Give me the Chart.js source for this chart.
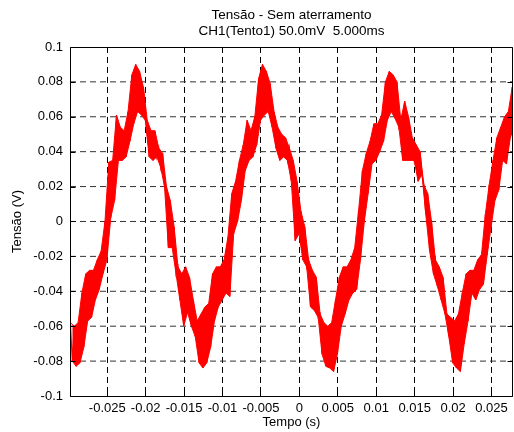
<!DOCTYPE html>
<html><head><meta charset="utf-8">
<script src="https://cdn.jsdelivr.net/npm/chart.js@4.4.0/dist/chart.umd.min.js"></script>
<style>html,body{margin:0;padding:0;background:#fff}#wrap{width:514px;height:432px}</style>
</head><body><div id="wrap"><canvas id="c" width="514" height="432"></canvas></div>
<script>
const titleLines = ['Tensão - Sem aterramento', 'CH1(Tento1) 50.0mV  5.000ms'];
const xTitle = 'Tempo (s)';
const yTitle = 'Tensão (V)';
const xTickValues = [-0.025, -0.02, -0.015, -0.01, -0.005, 0, 0.005, 0.01, 0.015, 0.02, 0.025];
const xTickLabels = ['-0.025', '-0.02', '-0.015', '-0.01', '-0.005', '0', '0.005', '0.01', '0.015', '0.02', '0.025'];
const yTickValues = [-0.1, -0.08, -0.06, -0.04, -0.02, 0, 0.02, 0.04, 0.06, 0.08, 0.1];
const yTickLabels = ['-0.1', '-0.08', '-0.06', '-0.04', '-0.02', '0', '0.02', '0.04', '0.06', '0.08', '0.1'];
const xMin = -0.02985, xMax = 0.0278;

// time of each reading (s)
const sampleTimes = [
 -0.0298,-0.0293,-0.0288,-0.0283,-0.0278,-0.0273,-0.0268,-0.0263,-0.0258,-0.0253,
 -0.0248,-0.0243,-0.0238,-0.0233,-0.0228,-0.0223,-0.0218,-0.0213,-0.0208,-0.0203,
 -0.0198,-0.0193,-0.0188,-0.0183,-0.0178,-0.0173,-0.0168,-0.0163,-0.0158,-0.0153,
 -0.0148,-0.0143,-0.0138,-0.0133,-0.0128,-0.0123,-0.0118,-0.0113,-0.0108,-0.0103,
 -0.0098,-0.0093,-0.0088,-0.0083,-0.0078,-0.0073,-0.0068,-0.0063,-0.0058,-0.0053,
 -0.0048,-0.0043,-0.0038,-0.0033,-0.0028,-0.0023,-0.0018,-0.0013,-0.0008,-0.0003,
 0.0002,0.0007,0.0012,0.0017,0.0022,0.0027,0.0032,0.0037,0.0042,0.0047,
 0.0052,0.0057,0.0062,0.0067,0.0072,0.0077,0.0082,0.0087,0.0092,0.0097,
 0.0102,0.0107,0.0112,0.0117,0.0122,0.0127,0.0132,0.0137,0.0142,0.0147,
 0.0152,0.0157,0.0162,0.0167,0.0172,0.0177,0.0182,0.0187,0.0192,0.0197,
 0.0202,0.0207,0.0212,0.0217,0.0222,0.0227,0.0232,0.0237,0.0242,0.0247,
 0.0252,0.0257,0.0262,0.0267,0.0272,0.0277
];
// upper edge of the noisy trace (V)
const upperV = [
 -0.058,-0.060,-0.058,-0.041,-0.030,-0.028,-0.028,-0.022,-0.017,0.000,
 0.034,0.035,0.061,0.054,0.052,0.063,0.084,0.090,0.086,0.077,
 0.058,0.052,0.052,0.042,0.039,0.020,0.012,-0.003,-0.026,-0.030,
 -0.026,-0.032,-0.045,-0.057,-0.053,-0.049,-0.047,-0.030,-0.026,-0.026,
 -0.022,-0.009,0.016,0.023,0.035,0.044,0.058,0.052,0.060,0.082,
 0.090,0.086,0.079,0.063,0.054,0.050,0.048,0.042,0.035,0.023,
 0.006,-0.003,-0.022,-0.028,-0.032,-0.053,-0.058,-0.060,-0.058,-0.045,
 -0.032,-0.026,-0.026,-0.022,-0.015,0.006,0.029,0.039,0.046,0.056,
 0.056,0.061,0.080,0.086,0.084,0.080,0.058,0.069,0.060,0.048,
 0.044,0.040,0.021,0.016,0.000,-0.022,-0.026,-0.032,-0.053,-0.055,
 -0.057,-0.053,-0.041,-0.030,-0.028,-0.028,-0.022,-0.019,0.004,0.021,
 0.035,0.048,0.054,0.060,0.063,0.077
];
// lower edge of the noisy trace (V)
const lowerV = [
 -0.080,-0.083,-0.081,-0.072,-0.057,-0.055,-0.045,-0.039,-0.030,-0.022,
 0.002,0.012,0.035,0.035,0.037,0.046,0.056,0.063,0.061,0.058,
 0.037,0.035,0.037,0.031,0.020,-0.015,-0.015,-0.030,-0.045,-0.060,
 -0.052,-0.060,-0.066,-0.081,-0.084,-0.081,-0.072,-0.057,-0.049,-0.045,
 -0.041,-0.043,-0.007,0.000,0.012,0.029,0.035,0.037,0.044,0.058,
 0.061,0.063,0.054,0.042,0.035,0.037,0.035,0.023,-0.011,-0.007,
 -0.022,-0.026,-0.049,-0.051,-0.055,-0.076,-0.083,-0.084,-0.086,-0.076,
 -0.060,-0.053,-0.045,-0.041,-0.039,-0.022,0.000,0.016,0.033,0.035,
 0.040,0.046,0.058,0.063,0.059,0.054,0.035,0.035,0.035,0.035,
 0.023,0.027,0.004,-0.017,-0.030,-0.037,-0.045,-0.053,-0.066,-0.081,
 -0.084,-0.086,-0.070,-0.057,-0.041,-0.045,-0.039,-0.036,-0.019,-0.003,
 0.012,0.018,0.035,0.033,0.048,0.054
];
const lowerTimeOffset = 0.00025; // lower reading taken half a sample later

// trace alternates between upper and lower readings
const tracePoints = [];
sampleTimes.forEach((t, i) => {
  tracePoints.push({x: t, y: upperV[i]});
  tracePoints.push({x: t + lowerTimeOffset, y: lowerV[i]});
});
const upperPoints = sampleTimes.map((t, i) => ({x: t, y: upperV[i]}));
const lowerPoints = sampleTimes.map((t, i) => ({x: t + lowerTimeOffset, y: lowerV[i]}));

const FONT = '"Liberation Sans", Arial, Helvetica, sans-serif';
Chart.defaults.color = '#000';
Chart.defaults.font.family = FONT;

const frame = {
  id: 'frame',
  beforeDatasetsDraw(chart) {
    const {ctx, chartArea: a, scales: {x, y}} = chart;
    ctx.save();
    ctx.strokeStyle = '#000';
    ctx.lineWidth = 1;
    ctx.setLineDash([6, 4]);
    xTickValues.forEach(v => {
      const px = Math.floor(x.getPixelForValue(v)) + 0.5;
      ctx.beginPath(); ctx.moveTo(px, a.top); ctx.lineTo(px, a.bottom); ctx.stroke();
    });
    ctx.strokeStyle = '#333';
    yTickValues.slice(1, -1).forEach(v => {
      const py = y.getPixelForValue(v);
      ctx.beginPath(); ctx.moveTo(a.left, py); ctx.lineTo(a.right, py); ctx.stroke();
    });
    ctx.restore();
  },
  afterDatasetsDraw(chart) {
    const {ctx, chartArea: a, scales: {x, y}} = chart;
    ctx.save();
    ctx.strokeStyle = '#000';
    ctx.lineWidth = 1;
    ctx.setLineDash([]);
    const L = Math.floor(a.left) + 0.5, R = Math.floor(a.right) - 0.5;
    const T = Math.round(a.top) + 0.5, B = Math.round(a.bottom) + 0.5;
    ctx.beginPath();
    ctx.rect(L, T, R - L, B - T);
    ctx.stroke();
    const tl = 5;
    xTickValues.forEach(v => {
      const px = Math.floor(x.getPixelForValue(v)) + 0.5;
      ctx.beginPath(); ctx.moveTo(px, B); ctx.lineTo(px, B - tl); ctx.stroke();
      ctx.beginPath(); ctx.moveTo(px, T); ctx.lineTo(px, T + tl); ctx.stroke();
    });
    yTickValues.forEach(v => {
      const py = Math.round(y.getPixelForValue(v)) + 0.5;
      ctx.beginPath(); ctx.moveTo(L, py); ctx.lineTo(L + tl, py); ctx.stroke();
      ctx.beginPath(); ctx.moveTo(R, py); ctx.lineTo(R - tl, py); ctx.stroke();
    });
    ctx.restore();
  }
};

new Chart(document.getElementById('c'), {
  type: 'line',
  data: {
    datasets: [
      {
        data: upperPoints,
        borderColor: '#ff0000',
        borderWidth: 1,
        pointRadius: 0,
        tension: 0,
        fill: false
      },
      {
        data: lowerPoints,
        borderColor: '#ff0000',
        backgroundColor: '#ff0000',
        borderWidth: 1,
        pointRadius: 0,
        tension: 0,
        fill: '-1'
      },
      {
        data: tracePoints,
        borderColor: '#ff0000',
        borderWidth: 1.2,
        pointRadius: 0,
        tension: 0,
        fill: false
      }
    ]
  },
  options: {
    responsive: false,
    devicePixelRatio: 1,
    animation: false,
    layout: {padding: {left: 0, right: 1, top: 0, bottom: 0}},
    plugins: {
      legend: {display: false},
      tooltip: {enabled: false},
      filler: {propagate: false},
      title: {
        display: true,
        text: titleLines,
        fullSize: false,
        font: {size: 13.5, weight: 'normal', family: FONT, lineHeight: 1.22},
        padding: {top: 7, bottom: 7},
        color: '#000'
      }
    },
    scales: {
      x: {
        type: 'linear',
        min: xMin,
        max: xMax,
        afterBuildTicks: s => { s.ticks = xTickValues.map(v => ({value: v})); },
        afterFit: s => { s.height = 36; },
        grid: {display: false, drawTicks: false},
        border: {display: false},
        ticks: {
          padding: 5,
          maxRotation: 0,
          autoSkip: false,
          font: {size: 13, family: FONT},
          color: '#000',
          callback: (v, i) => xTickLabels[i]
        },
        title: {display: true, text: xTitle, font: {size: 13, family: FONT}, padding: {top: 0, bottom: 1.5}, color: '#000'}
      },
      y: {
        type: 'linear',
        min: -0.1,
        max: 0.1,
        afterBuildTicks: s => { s.ticks = yTickValues.map(v => ({value: v})); },
        afterFit: s => { s.width = 70; },
        grid: {display: false, drawTicks: false},
        border: {display: false},
        ticks: {
          padding: 7,
          autoSkip: false,
          font: {size: 13, family: FONT},
          color: '#000',
          callback: (v, i) => yTickLabels[i]
        },
        title: {display: true, text: yTitle, font: {size: 13, family: FONT}, padding: {top: 10, bottom: 0}, color: '#000'}
      }
    }
  },
  plugins: [frame]
});
</script>
</body></html>
